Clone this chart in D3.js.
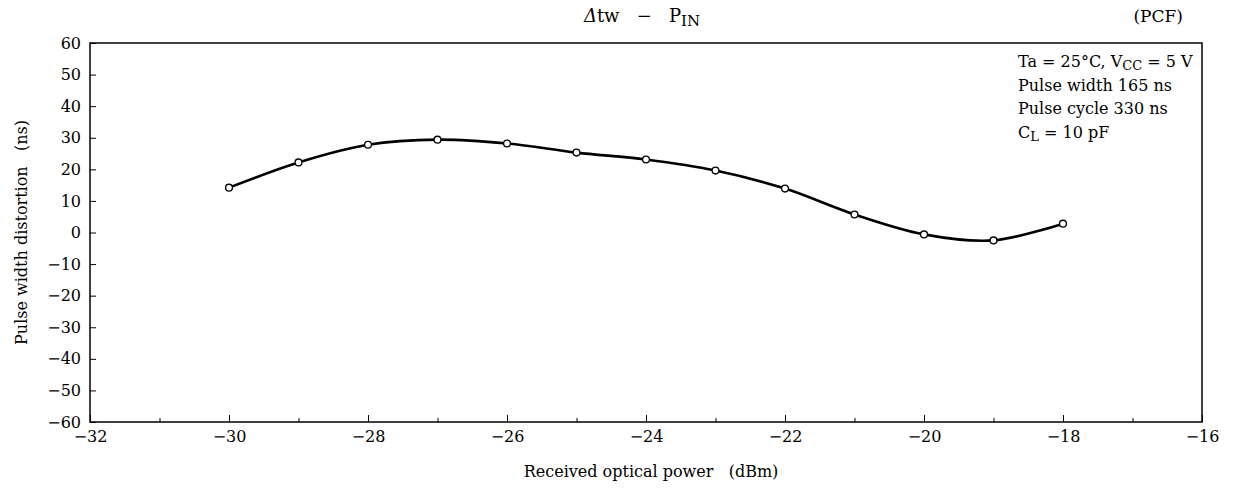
<!DOCTYPE html>
<html>
<head>
<meta charset="utf-8">
<script src="https://cdn.jsdelivr.net/npm/d3@7"></script>
<style>
  body { margin: 0; background: #fff; }
  text { font-family: "DejaVu Serif", "Liberation Serif", serif; fill: #000; }
</style>
</head>
<body>
<script>
const w = 1247;
const h = 488;
const margin = { top: 43, right: 45, bottom: 66, left: 90 };

// data
const powerDbm = [-30, -29, -28, -27, -26, -25, -24, -23, -22, -21, -20, -19, -18];
const distortionNs = [14.2, 22.2, 27.8, 29.4, 28.2, 25.3, 23.1, 19.6, 13.9, 5.7, -0.6, -2.5, 2.8];
const xTicks = [-32, -30, -28, -26, -24, -22, -20, -18, -16];
const xMinorTicks = [-31, -29, -27, -25, -23, -21, -19, -17];
const yTicks = [60, 50, 40, 30, 20, 10, 0, -10, -20, -30, -40, -50, -60];
const notes = ["Ta = 25°C, V|CC| = 5 V", "Pulse width 165 ns", "Pulse cycle 330 ns", "C|L| = 10 pF"];

const data = powerDbm.map((p, i) => ({ x: p, y: distortionNs[i] }));

const svg = d3.select("body").append("svg").attr("width", w).attr("height", h);

const xScale = d3.scaleLinear().domain([-32, -16]).range([margin.left, w - margin.right]);
const yScale = d3.scaleLinear().domain([-60, 60]).range([h - margin.bottom, margin.top]);

const fmt = (d) => (d < 0 ? "\u2212" + Math.abs(d) : "" + d);

// frame
svg.append("rect")
  .attr("x", xScale(-32)).attr("y", yScale(60))
  .attr("width", xScale(-16) - xScale(-32))
  .attr("height", yScale(-60) - yScale(60))
  .attr("fill", "none").attr("stroke", "#000").attr("stroke-width", 1.5);

/* axes, ticks pointing inward */
const yAxis = d3.axisLeft(yScale).tickValues(yTicks).tickSize(-6).tickPadding(9).tickFormat(fmt);
svg.append("g")
  .attr("transform", `translate(${margin.left}, 0)`)
  .call(yAxis)
  .call((g) => g.select(".domain").remove())
  .selectAll("text").style("font-size", "16px");

const xAxis = d3.axisBottom(xScale).tickValues(xTicks).tickSize(-7).tickPadding(9).tickFormat(fmt);
svg.append("g")
  .attr("transform", `translate(0, ${h - margin.bottom})`)
  .call(xAxis)
  .call((g) => g.select(".domain").remove())
  .selectAll("text").style("font-size", "16px");

svg.append("g")
  .attr("transform", `translate(0, ${h - margin.bottom})`)
  .call(d3.axisBottom(xScale).tickValues(xMinorTicks).tickSize(-4).tickFormat(""))
  .call((g) => g.select(".domain").remove());

// curve
const line = d3.line()
  .x((d) => xScale(d.x))
  .y((d) => yScale(d.y))
  .curve(d3.curveCatmullRom.alpha(0.5));

svg.append("path")
  .datum(data)
  .attr("d", line)
  .attr("fill", "none")
  .attr("stroke", "#000")
  .attr("stroke-width", 2.6);

svg.selectAll("circle")
  .data(data)
  .enter()
  .append("circle")
  .attr("cx", (d) => xScale(d.x))
  .attr("cy", (d) => yScale(d.y))
  .attr("r", 3.4)
  .attr("fill", "#fff")
  .attr("stroke", "#000")
  .attr("stroke-width", 1.3);

/* title */
const title = svg.append("text").attr("x", 642).attr("y", 22).attr("text-anchor", "middle")
  .attr("xml:space", "preserve").style("font-size", "18px");
title.append("tspan").style("font-style", "italic").text("\u0394");
title.append("tspan").text("tw   \u2212   P");
title.append("tspan").attr("dy", 4).style("font-size", "15px").text("IN");

svg.append("text").attr("x", 1183).attr("y", 22).attr("text-anchor", "end").style("font-size", "17px").text("(PCF)");

// notes with subscripts marked as |sub|
notes.forEach((s, i) => {
  const t = svg.append("text").attr("x", 1018).attr("y", 67 + i * 23.5).style("font-size", "16px");
  s.split("|").forEach((part, j) => {
    const sp = t.append("tspan").text(part);
    if (j % 2 === 1) sp.attr("dy", 3).style("font-size", "13px");
    else if (j > 0) sp.attr("dy", -3);
  });
});

// axis labels
svg.append("text")
  .attr("transform", `translate(27, ${yScale(0)}) rotate(-90)`)
  .attr("text-anchor", "middle")
  .style("font-size", "16px")
  .attr("xml:space", "preserve")
  .text("Pulse width distortion   (ns)");

svg.append("text")
  .attr("x", 651).attr("y", 477)
  .attr("text-anchor", "middle")
  .style("font-size", "16px")
  .attr("xml:space", "preserve")
  .text("Received optical power   (dBm)");
</script>
</body>
</html>
